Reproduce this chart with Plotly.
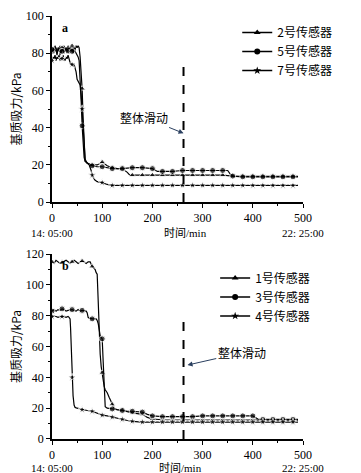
import plotly.graph_objects as go
from plotly.subplots import make_subplots

# ---------------- Panel a data ----------------
t_s2 = [0,2,4,6,8,10,12,14,16,18,20,22,24,26,28,30,32,34,36,38,40,42,44,46,48,50,52,54,56,58,60,62,64,66,70,80,90,100,110,120,130,140,150,155,160,180,200,220,240,260,280,300,320,340,360,380,400,420,440,460,480,490]
v_s2 = [81,83,80,84,82,79,83,81,84,80,83,82,84,81,83,80,84,82,83,81,84,80,83,82,84,83,84,83,78,70,61,45,28,22,21,20,20,21.5,19.5,18.5,18,18,16,14.5,14.5,14.5,14.5,14.5,14.5,14.5,14.5,14.5,14.5,14.5,14,13.8,13.8,13.8,13.8,13.8,13.8,13.8]

t_s5 = [0,2,4,6,8,10,12,14,16,18,20,22,24,26,28,30,32,34,36,38,40,42,44,46,48,50,52,54,56,58,60,62,64,66,70,80,90,100,110,120,140,160,180,200,210,220,240,260,280,300,320,340,350,355,360,380,400,420,440,460,480,490]
v_s5 = [82,80,83,81,83,80,82,83,79,82,81,83,80,82,83,81,82,80,83,82,81,82,83,81,80,79,78,76,68,55,41,30,24,22,21,19.5,19,19,18.5,18,18,18.5,18.5,18,16.5,16.5,16.5,17,17,17,17,17,17,15,14,13.6,13.6,13.6,13.6,13.6,13.6,13.6]

t_s7 = [0,2,4,6,8,10,12,14,16,18,20,22,24,26,28,30,32,34,36,38,40,42,44,46,48,50,54,56,58,60,62,64,66,70,74,78,80,85,90,100,110,120,140,160,180,200,220,240,260,280,300,320,340,360,380,400,420,440,460,480,490]
v_s7 = [76,78,77,79,76,78,77,79,76,78,77,79,77,76,78,77,79,76,75,74,74,73,74,72,70,66,64,63,58,50,38,28,23,21,20,17,14.5,12,11,10.5,9.5,9,9,9,9,9,9,9,9,9,9,9,9,9,9,9,9,9,9,9,9]

# ---------------- Panel b data ----------------
t_s1 = [0,4,8,12,16,20,24,28,32,36,40,44,48,52,56,60,64,68,72,76,80,84,86,88,90,92,94,96,98,100,102,104,106,110,114,117,120,124,130,140,160,180,190,200,220,240,260,280,300,320,340,360,380,400,420,440,460,480,490]
v_s1 = [115,114,116,115,114,114.5,115,116,115,114,115,116,115,114,115,115.5,115,114,115,115,112,111,110,108,107,90,70,55,47,43,37,34,32,30,27,25,22.5,20,19,18.5,17,16,14,13,12.5,12.5,12.5,12.5,12.5,12.5,12.5,12.5,12.5,12.5,12.3,12.3,12.3,12.3,12.3]

t_s3 = [0,4,8,12,16,20,24,28,32,36,40,44,48,52,56,60,64,68,70,72,74,80,88,90,92,94,96,98,100,102,104,106,110,120,130,140,150,160,180,190,200,220,240,260,280,300,320,340,360,380,400,410,420,440,460,480,490]
v_s3 = [83,84,83,84,83.5,84.5,84,83,83.5,84,84,83.5,83,84,83,83.5,83,83,82,79,78.5,78,78,77,75,70,67,66,65,50,30,21,20,19.5,19,18.5,18,18,17.5,16,15,14.5,14.5,14.5,14.5,15,15,15,15,15,15,13,12.7,12.7,12.7,12.7,12.7]

t_s4 = [0,4,8,12,16,20,24,28,32,34,36,37,38,39,40,42,44,46,50,60,70,80,90,100,110,120,130,140,150,160,180,200,220,240,260,280,300,320,340,360,380,400,420,440,460,480,490]
v_s4 = [79.5,80,79.5,79,79.5,79.5,79.5,79,79.5,79,78,72,60,50,40,28,22,20.5,20,19,18.5,18,16.5,15.5,15,14.2,13.5,12.8,12,11.5,11,11,11,11,11,11,11,11,11,11,11,11,11,11,11,11,11]

names_a = ["2号传感器", "5号传感器", "7号传感器"]
names_b = ["1号传感器", "3号传感器", "4号传感器"]
symbols = ["triangle-up", "circle", "star"]
slide_time = 262
slide_top_a = 77
slide_top_b = 79
x_ticks = [0, 100, 200, 300, 400, 500]
start_label = "14: 05:00"
end_label = "22: 25:00"
x_title = "时间/min"
y_title = "基质吸力/kPa"
slide_label = "整体滑动"

SERIF = "Liberation Serif, Noto Sans CJK SC"
CJK = "Noto Sans CJK SC, Liberation Serif"

fig = make_subplots(rows=2, cols=1)

def add_series(t, v, name, sym, row, legend):
    sizes = [6 if (tt % 20 == 0 and tt <= 480) else 0 for tt in t]
    fig.add_trace(go.Scatter(x=t, y=v, mode="lines+markers", showlegend=False,
                             line=dict(color="black", width=1.2),
                             marker=dict(symbol=sym, size=sizes, color="black"),
                             hoverinfo="skip"), row=row, col=1)
    fig.add_trace(go.Scatter(x=[None], y=[None], mode="lines+markers", name=name,
                             legend=legend,
                             line=dict(color="black", width=1.5),
                             marker=dict(symbol=sym, size=6, color="black")), row=row, col=1)

for t, v, n, s in zip([t_s2, t_s5, t_s7], [v_s2, v_s5, v_s7], names_a, symbols):
    add_series(t, v, n, s, 1, "legend")
for t, v, n, s in zip([t_s1, t_s3, t_s4], [v_s1, v_s3, v_s4], names_b, symbols):
    add_series(t, v, n, s, 2, "legend2")

# dashed slide lines
fig.add_shape(type="line", xref="x", yref="y", x0=slide_time, x1=slide_time, y0=0, y1=slide_top_a,
              line=dict(color="black", width=2, dash="dash"))
fig.add_shape(type="line", xref="x2", yref="y2", x0=slide_time, x1=slide_time, y0=0, y1=slide_top_b,
              line=dict(color="black", width=2, dash="dash"))

ann = []
ann.append(dict(xref="x", yref="y", axref="x", ayref="y", x=slide_time, y=37, ax=184, ay=45.5,
                text=slide_label, showarrow=True, arrowhead=2, arrowsize=1, arrowwidth=1,
                font=dict(family=CJK, size=12, color="black")))
ann.append(dict(xref="x2", yref="y2", axref="x2", ayref="y2", x=slide_time + 8, y=48, ax=378, ay=56,
                text=slide_label, showarrow=True, arrowhead=2, arrowsize=1, arrowwidth=1,
                font=dict(family=CJK, size=12, color="black")))
# panel letters
ann.append(dict(xref="x domain", yref="y domain", x=0.03, y=0.985, text="<b>a</b>", showarrow=False,
                xanchor="left", yanchor="top", font=dict(family=SERIF, size=12, color="black")))
ann.append(dict(xref="x2 domain", yref="y2 domain", x=0.03, y=0.985, text="<b>b</b>", showarrow=False,
                xanchor="left", yanchor="top", font=dict(family=SERIF, size=12, color="black")))
# time labels under axes
for xr, yr, off, xt in [("x", "y domain", -0.167, 265), ("x2", "y2 domain", -0.158, 255)]:
    ann.append(dict(xref=xr, yref=yr, x=0, y=off, text=start_label, showarrow=False,
                    xanchor="center", yanchor="middle", font=dict(family=SERIF, size=11, color="black")))
    ann.append(dict(xref=xr, yref=yr, x=500, y=off, text=end_label, showarrow=False,
                    xanchor="center", yanchor="middle", font=dict(family=SERIF, size=11, color="black")))
    ann.append(dict(xref=xr, yref=yr, x=xt, y=off, text=x_title, showarrow=False,
                    xanchor="center", yanchor="middle", font=dict(family=SERIF, size=11, color="black")))

axis_common = dict(showline=True, linecolor="black", linewidth=1.5, ticks="outside", ticklen=4,
                   tickwidth=1.2, tickcolor="black", showgrid=False, zeroline=False,
                   tickfont=dict(family=SERIF, size=12, color="black"),
                   minor=dict(ticks="outside", ticklen=2, tickwidth=1, tickcolor="black"))

fig.update_xaxes(range=[0, 500], tickvals=x_ticks, minor_dtick=50, **axis_common)
fig.update_yaxes(**axis_common)
fig.update_layout(
    yaxis=dict(domain=[0.56, 1.0], range=[0, 100], dtick=20, minor_dtick=10,
               title=dict(text=y_title, standoff=2, font=dict(family=CJK, size=12, color="black"))),
    yaxis2=dict(domain=[0.0, 0.437], range=[0, 120], dtick=20, minor_dtick=10,
                title=dict(text=y_title, standoff=2, font=dict(family=CJK, size=12, color="black"))),
    xaxis=dict(anchor="y"), xaxis2=dict(anchor="y2"),
    width=361, height=473,
    margin=dict(l=52, r=58, t=16, b=34, autoexpand=False),
    paper_bgcolor="white", plot_bgcolor="white",
    annotations=ann,
    legend=dict(x=0.738, y=0.995, xanchor="left", yanchor="top", itemwidth=30,
                bgcolor="rgba(0,0,0,0)", tracegroupgap=0,
                font=dict(family=CJK, size=12, color="black")),
    legend2=dict(x=0.65, y=0.415, xanchor="left", yanchor="top", itemwidth=30,
                 bgcolor="rgba(0,0,0,0)", tracegroupgap=0,
                 font=dict(family=CJK, size=12, color="black")),
)

fig.write_html("out.html", config={"displayModeBar": False},
               post_script="document.body.style.margin='0';document.body.style.padding='0';")
